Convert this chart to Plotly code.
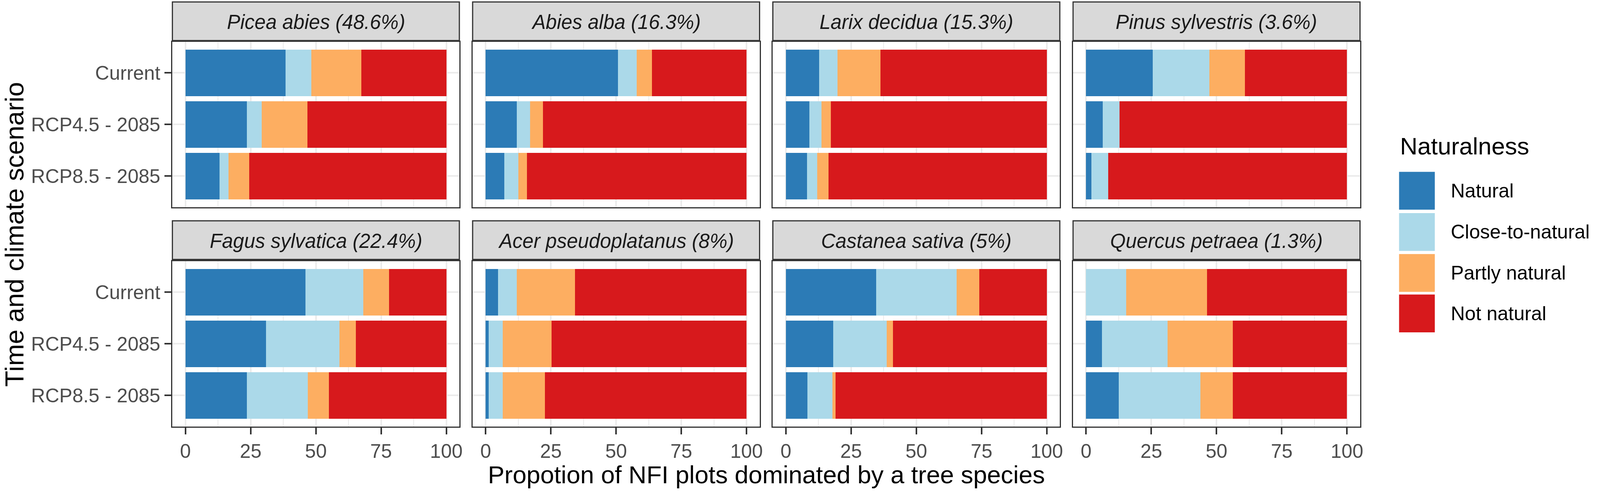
import plotly.graph_objects as go
from plotly.subplots import make_subplots

# positions below are measured on the 4318 x 1266 reference, then turned into paper fractions
W = 4318
H = 1266

species = ["Picea abies (48.6%)", "Abies alba (16.3%)", "Larix decidua (15.3%)", "Pinus sylvestris (3.6%)",
           "Fagus sylvatica (22.4%)", "Acer pseudoplatanus (8%)", "Castanea sativa (5%)", "Quercus petraea (1.3%)"]
scenarios = ["Current", "RCP4.5 - 2085", "RCP8.5 - 2085"]
classes = ["Natural", "Close-to-natural", "Partly natural", "Not natural"]
colors = ["#2c7bb6", "#abd9e9", "#fdae61", "#d7191c"]
x_ticks = [0, 25, 50, 75, 100]

# one row per species, one value per scenario
natural = [[38.4, 23.6, 13.0], [50.7, 12.0, 7.1], [12.8, 9.0, 8.1], [25.6, 6.3, 2.0],
           [46.0, 30.9, 23.5], [4.7, 1.2, 1.2], [34.6, 18.1, 8.2], [0.0, 6.1, 12.5]]
close_to_natural = [[9.8, 5.6, 3.5], [7.2, 5.0, 5.4], [7.0, 4.7, 3.9], [21.7, 6.5, 6.5],
                    [22.1, 28.2, 23.4], [7.3, 5.4, 5.4], [30.9, 20.5, 9.7], [15.4, 25.2, 31.3]]
partly_natural = [[19.2, 17.5, 8.0], [5.9, 4.9, 3.4], [16.5, 3.6, 4.4], [13.6, 0.0, 0.0],
                  [10.0, 6.2, 8.1], [22.3, 18.7, 16.1], [8.6, 2.4, 1.1], [30.9, 25.0, 12.5]]
not_natural = [[32.6, 53.3, 75.5], [36.2, 78.1, 84.1], [63.7, 82.7, 83.6], [39.1, 87.2, 91.5],
               [21.9, 34.7, 45.0], [65.7, 74.7, 77.3], [25.9, 59.0, 81.0], [53.7, 43.7, 43.7]]
series = [natural, close_to_natural, partly_natural, not_natural]


def px(x):
    return x / W


def py(y):
    return 1 - y / H


col_left = [468, 1283, 2098, 2913]
panel_w = 779
row_top = [108.5, 676.5]
panel_h = 428
strip_top = [5, 572]

fig = make_subplots(rows=2, cols=4)

for i, name in enumerate(species):
    r = i // 4 + 1
    c = i % 4 + 1
    for k, cl in enumerate(classes):
        fig.add_trace(go.Bar(
            y=scenarios,
            x=series[k][i],
            orientation="h",
            name=cl,
            marker=dict(color=colors[k], line=dict(width=0)),
            showlegend=False), row=r, col=c)

    fig.update_xaxes(
        domain=[px(col_left[c - 1]), px(col_left[c - 1] + panel_w)],
        range=[-5, 105],
        tickmode="array", tickvals=x_ticks, ticktext=[str(t) for t in x_ticks],
        showgrid=True, gridcolor="#ebebeb", gridwidth=4,
        minor=dict(tickmode="array", tickvals=[12.5, 37.5, 62.5, 87.5], showgrid=True,
                   gridcolor="#ebebeb", gridwidth=2, ticks=""),
        zeroline=False,
        showline=True, mirror=True, linecolor="#333333", linewidth=3,
        ticks="outside" if r == 2 else "", ticklen=17, tickwidth=4, tickcolor="#333333",
        showticklabels=r == 2,
        tickfont=dict(size=50, color="#4d4d4d"),
        ticklabelstandoff=0,
        row=r, col=c)
    fig.update_yaxes(
        domain=[py(row_top[r - 1] + panel_h), py(row_top[r - 1])],
        type="category", categoryorder="array", categoryarray=scenarios,
        range=[2.6, -0.6],
        showgrid=True, gridcolor="#ebebeb", gridwidth=4,
        zeroline=False,
        showline=True, mirror=True, linecolor="#333333", linewidth=3,
        ticks="outside" if c == 1 else "", ticklen=17, tickwidth=4, tickcolor="#333333",
        showticklabels=c == 1,
        tickfont=dict(size=50, color="#4d4d4d"),
        ticklabelstandoff=1,
        row=r, col=c)

    # facet strip
    fig.add_shape(type="rect", xref="paper", yref="paper",
                  x0=px(col_left[c - 1]), x1=px(col_left[c - 1] + panel_w),
                  y0=py(strip_top[r - 1] + 100), y1=py(strip_top[r - 1]),
                  fillcolor="#d9d9d9", line=dict(color="#333333", width=3))
    fig.add_annotation(text="<i>" + name + "</i>", xref="paper", yref="paper",
                       x=px(col_left[c - 1] + panel_w / 2), y=py(strip_top[r - 1] + 52),
                       xanchor="center", yanchor="middle",
                       showarrow=False, font=dict(size=51, color="#1a1a1a"))

# axis titles
fig.add_annotation(text="Propotion of NFI plots dominated by a tree species", xref="paper", yref="paper",
                   x=px(2080), y=py(1230), xanchor="center", yanchor="middle",
                   showarrow=False, font=dict(size=63.5, color="#000000"))
fig.add_annotation(text="Time and climate scenario", xref="paper", yref="paper",
                   x=px(38), y=py(607), xanchor="center", yanchor="middle", textangle=-90,
                   showarrow=False, font=dict(size=67, color="#000000"))

# legend drawn by hand so the keys keep their size
fig.add_annotation(text="Naturalness", xref="paper", yref="paper", xanchor="left", yanchor="middle",
                   x=px(3798), y=py(378), showarrow=False, font=dict(size=62, color="#000000"))
key_tops = [445, 552, 658, 763]
for k, cl in enumerate(classes):
    fig.add_shape(type="rect", xref="paper", yref="paper",
                  x0=px(3798), x1=px(3895), y0=py(key_tops[k] + 98), y1=py(key_tops[k]),
                  fillcolor=colors[k], line=dict(width=0))
    fig.add_annotation(text=cl, xref="paper", yref="paper", xanchor="left", yanchor="middle",
                       x=px(3936), y=py(key_tops[k] + 49), showarrow=False,
                       font=dict(size=50, color="#000000"))

fig.update_layout(
    margin=dict(l=0, r=0, t=0, b=0),
    barmode="stack", bargap=0.1,
    paper_bgcolor="white", plot_bgcolor="white",
    font=dict(family="Liberation Sans"))

fig.write_html("out.html", config={"displayModeBar": False},
               post_script="document.body.style.margin='0';")
